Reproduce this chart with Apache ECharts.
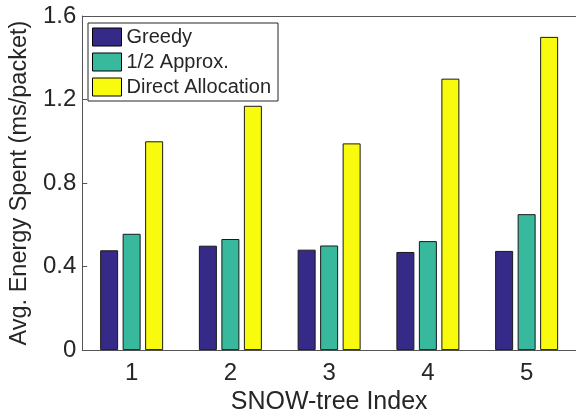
<!DOCTYPE html>
<html>
<head>
<meta charset="utf-8">
<script src="https://cdn.jsdelivr.net/npm/echarts@6/dist/echarts.min.js"></script>
<style>
  html, body { margin: 0; padding: 0; background: #fff; }
  #chart { width: 576px; height: 420px; }
</style>
</head>
<body>
<div id="chart"></div>
<script>
// values
var categories = ['1', '2', '3', '4', '5'];
var greedy = [0.478, 0.50, 0.481, 0.47, 0.475];
var approx = [0.557, 0.532, 0.501, 0.522, 0.651];
var direct = [1.0, 1.17, 0.99, 1.30, 1.50];
var seriesNames = ['Greedy', '1/2 Approx.', 'Direct Allocation'];
var colors = ['#352a87', '#38b99e', '#f9fb0e'];

var font = 'Liberation Sans, Arial, Helvetica, sans-serif';
var txt = '#262626';
var axisCol = '#555555';

var chart = echarts.init(document.getElementById('chart'));

function bar(name, data, i) {
    return {
	name: name,
	type: 'bar',
	data: data,
	barWidth: 18,
	barGap: '25%',
	itemStyle: {color: colors[i], borderColor: '#1a1a1a', borderWidth: 1},
	emphasis: {disabled: true}
    };
}

chart.setOption({
    animation: false,
    textStyle: {fontFamily: font},
    grid: {left: 78, top: 16, width: 504, height: 336},
    legend: {
	orient: 'vertical',
	left: 88, top: 23,
	data: seriesNames,
	icon: 'rect',
	itemWidth: 29, itemHeight: 18, itemGap: 5,
	padding: [4, 7, 4, 4],
	borderColor: '#262626', borderWidth: 1,
	backgroundColor: '#fff',
	textStyle: {fontSize: 20, color: txt, fontFamily: font},
	itemStyle: {borderColor: '#000', borderWidth: 1}
    },
    xAxis: [{
	type: 'category',
	data: categories,
	name: 'SNOW-tree Index',
	nameLocation: 'middle',
	nameGap: 39,
	nameTextStyle: {fontSize: 25, color: txt},
	axisLine: {lineStyle: {color: axisCol, width: 1}},
	axisTick: {inside: true, alignWithLabel: true, length: 5, lineStyle: {color: axisCol}},
	axisLabel: {fontSize: 24, color: txt, margin: 11}
    }, {
	type: 'category',
	data: categories,
	position: 'top',
	axisLine: {lineStyle: {color: axisCol, width: 1}},
	axisTick: {inside: true, alignWithLabel: true, length: 5, lineStyle: {color: axisCol}},
	axisLabel: {show: false}
    }],
    yAxis: {
	type: 'value',
	min: 0, max: 1.6, interval: 0.4,
	name: 'Avg. Energy Spent (ms/packet)',
	nameLocation: 'middle',
	nameGap: 50,
	nameTextStyle: {fontSize: 23.5, color: txt},
	axisLine: {show: true, lineStyle: {color: axisCol, width: 1}},
	axisTick: {show: true, inside: true, length: 5, lineStyle: {color: axisCol}},
	axisLabel: {fontSize: 24, color: txt, margin: 6},
	splitLine: {show: false}
    },
    series: [
	bar(seriesNames[0], greedy, 0),
	bar(seriesNames[1], approx, 1),
	bar(seriesNames[2], direct, 2)
    ]
});
</script>
</body>
</html>
